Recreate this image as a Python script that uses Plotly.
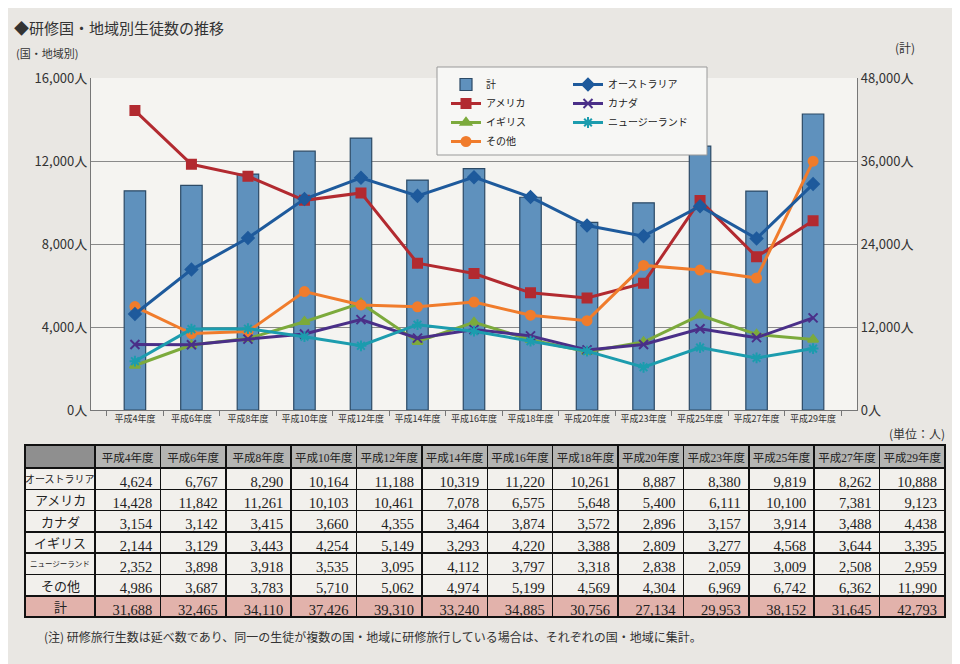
import plotly.graph_objects as go

years = ["平成4年度", "平成6年度", "平成8年度", "平成10年度", "平成12年度", "平成14年度", "平成16年度",
         "平成18年度", "平成20年度", "平成23年度", "平成25年度", "平成27年度", "平成29年度"]
australia = [4624, 6767, 8290, 10164, 11188, 10319, 11220, 10261, 8887, 8380, 9819, 8262, 10888]
america = [14428, 11842, 11261, 10103, 10461, 7078, 6575, 5648, 5400, 6111, 10100, 7381, 9123]
canada = [3154, 3142, 3415, 3660, 4355, 3464, 3874, 3572, 2896, 3157, 3914, 3488, 4438]
uk = [2144, 3129, 3443, 4254, 5149, 3293, 4220, 3388, 2809, 3277, 4568, 3644, 3395]
nz = [2352, 3898, 3918, 3535, 3095, 4112, 3797, 3318, 2838, 2059, 3009, 2508, 2959]
other = [4986, 3687, 3783, 5710, 5062, 4974, 5199, 4569, 4304, 6969, 6742, 6362, 11990]
total = [31688, 32465, 34110, 37426, 39310, 33240, 34885, 30756, 27134, 29953, 38152, 31645, 42793]
row_labels = ["オーストラリア", "アメリカ", "カナダ", "イギリス", "ニュージーランド", "その他", "計"]

W, H = 960, 664
ML, MR, MT, MB = 10, 10, 70, 40
PW, PH = W - ML - MR, H - MT - MB
OFF = 8  # page offset of the figure in the browser window


def fx(px):
    return (px - OFF - ML) / PW


def fy(py):
    return (H - MB - (py - OFF)) / PH


JP = "Noto Sans CJK JP"
SERIF = "Liberation Serif, Noto Sans CJK JP"

fig = go.Figure()

fig.add_trace(go.Bar(x=years, y=total, name="計", yaxis="y", width=0.38,
                     marker=dict(color="#5f91bd", line=dict(color="#2c4a66", width=1.2)),
                     legend="legend"))

series = [
    ("アメリカ", america, "#b22a30", "square", "legend"),
    ("イギリス", uk, "#7caa3c", "triangle-up", "legend"),
    ("その他", other, "#f07c2c", "circle", "legend"),
    ("オーストラリア", australia, "#1e5a9c", "diamond", "legend2"),
    ("カナダ", canada, "#4a2f88", "x-thin", "legend2"),
    ("ニュージーランド", nz, "#1c9cae", "asterisk", "legend2"),
]
for name, vals, col, sym, lg in series:
    fig.add_trace(go.Scatter(x=years, y=vals, name=name, yaxis="y2", mode="lines+markers",
                             line=dict(color=col, width=3),
                             marker=dict(symbol=sym, size=9, color=col,
                                         line=dict(color=col, width=2)),
                             legend=lg))

# table
TAB_TOP, HDR_H, ROW_H = 445, 23, 21.3
header_vals = [""] + years
rows = [australia, america, canada, uk, nz, other, total]
cols = [[""] * len(rows)]
for i in range(len(years)):
    cols.append([f"{r[i]:,}" for r in rows])
cell_fill_col = ["#f2f0ec"] * 6 + ["#e2b2ab"]
fig.add_trace(go.Table(
    domain=dict(x=[fx(25), fx(945)], y=[fy(618), fy(TAB_TOP)]),
    columnwidth=[70] + [65.4] * 13,
    header=dict(values=header_vals, height=HDR_H,
                fill_color=["#8f8f8f"] + ["#b4b4b2"] * 13,
                line=dict(color="#111", width=1.5),
                font=dict(family=SERIF, size=11.5, color="#222"), align="center"),
    cells=dict(values=cols, height=ROW_H,
               fill_color=[cell_fill_col] * 14,
               line=dict(color="#111", width=1.5),
               font=dict(family=SERIF, size=14.5, color="#222"),
               align=["center"] + ["right"] * 13),
))

label_sizes = [10, 13, 13, 13, 7.5, 13, 13]
label_anns = []
for k, (t, s) in enumerate(zip(row_labels, label_sizes)):
    yc = TAB_TOP + HDR_H + ROW_H * (k + 0.5)
    label_anns.append(dict(text=t, x=fx(60), y=fy(yc), xref="paper", yref="paper",
                           xanchor="center", yanchor="middle", showarrow=False,
                           font=dict(family=JP, size=s, color="#222")))

fig.update_layout(
    width=W, height=H,
    margin=dict(l=ML, r=MR, t=MT, b=MB, autoexpand=False),
    paper_bgcolor="#e9e7e3",
    plot_bgcolor="#f5f4f1",
    font=dict(family=JP, color="#333"),
    showlegend=True,
    xaxis=dict(domain=[fx(91), fx(857)], type="category", tickfont=dict(size=9, color="#333"),
               ticks="outside", tickson="boundaries", ticklen=5, tickcolor="#777",
               showline=True, linecolor="#777", linewidth=1.2, showgrid=False,
               automargin=False),
    yaxis=dict(domain=[fy(410), fy(78)], side="right", range=[0, 48000], dtick=12000,
               tickformat=",", ticksuffix="人", tickfont=dict(size=13, color="#333"),
               showgrid=True, gridcolor="#8a8a8a", gridwidth=1, zeroline=False,
               showline=True, linecolor="#777", linewidth=1.2, automargin=False),
    yaxis2=dict(overlaying="y", side="left", range=[0, 16000], dtick=4000,
                tickformat=",", ticksuffix="人", tickfont=dict(size=13, color="#333"),
                showgrid=False, zeroline=False, showline=True, linecolor="#777",
                linewidth=1.2, automargin=False),
    legend=dict(x=fx(446), y=fy(70), xanchor="left", yanchor="top", orientation="v",
                bgcolor="rgba(0,0,0,0)", font=dict(size=10, color="#222"),
                tracegroupgap=0, itemwidth=30, traceorder="normal"),
    legend2=dict(x=fx(568), y=fy(70), xanchor="left", yanchor="top", orientation="v",
                 bgcolor="rgba(0,0,0,0)", font=dict(size=10, color="#222"),
                 tracegroupgap=0, itemwidth=30, traceorder="normal"),
    shapes=[dict(type="rect", xref="paper", yref="paper", x0=fx(437), x1=fx(707),
                 y0=fy(155), y1=fy(67), fillcolor="#f7f7f5", line=dict(color="#999", width=1),
                 layer="above")],
    annotations=label_anns + [
        dict(text="◆研修国・地域別生徒数の推移", x=fx(12), y=fy(27), xref="paper", yref="paper",
             xanchor="left", yanchor="middle", showarrow=False, font=dict(size=15, color="#333")),
        dict(text="(国・地域別)", x=fx(14), y=fy(53), xref="paper", yref="paper",
             xanchor="left", yanchor="middle", showarrow=False, font=dict(size=11, color="#333")),
        dict(text="(計)", x=fx(893), y=fy(47), xref="paper", yref="paper",
             xanchor="left", yanchor="middle", showarrow=False, font=dict(size=12, color="#333")),
        dict(text="(単位：人)", x=fx(947), y=fy(433), xref="paper", yref="paper",
             xanchor="right", yanchor="middle", showarrow=False, font=dict(size=12, color="#333")),
        dict(text="(注) 研修旅行生数は延べ数であり、同一の生徒が複数の国・地域に研修旅行している場合は、それぞれの国・地域に集計。",
             x=fx(42), y=fy(636), xref="paper", yref="paper", xanchor="left", yanchor="middle",
             showarrow=False, font=dict(size=12, color="#333")),
    ],
)

fig.write_html("out.html")
